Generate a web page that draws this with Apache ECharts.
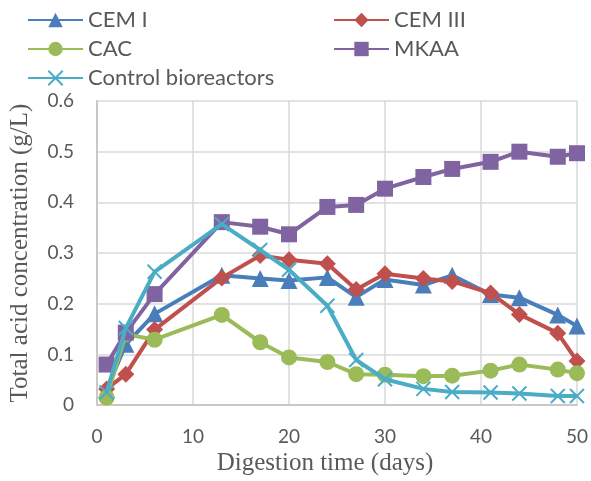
<!DOCTYPE html>
<html>
<head>
<meta charset="utf-8">
<script src="https://cdn.jsdelivr.net/npm/echarts@6/dist/echarts.min.js"></script>
<style>html,body{margin:0;padding:0;background:#fff;}#c{width:591px;height:481px;}</style>
</head>
<body>
<div id="c"></div>
<script>
const days = [1, 3, 6, 13, 17, 20, 24, 27, 30, 34, 37, 41, 44, 48, 50];
const cem1 = [0.03, 0.12, 0.18, 0.256, 0.25, 0.246, 0.252, 0.213, 0.248, 0.237, 0.256, 0.218, 0.212, 0.178, 0.156];
const cem3 = [0.032, 0.061, 0.149, 0.251, 0.295, 0.287, 0.279, 0.228, 0.259, 0.25, 0.244, 0.221, 0.179, 0.142, 0.087];
const cac = [0.015, 0.14, 0.129, 0.178, 0.124, 0.094, 0.085, 0.061, 0.06, 0.057, 0.058, 0.068, 0.08, 0.07, 0.063];
const mkaa = [0.08, 0.143, 0.219, 0.361, 0.352, 0.337, 0.391, 0.395, 0.427, 0.45, 0.466, 0.48, 0.5, 0.49, 0.497];
const control = [0.025, 0.152, 0.263, 0.357, 0.306, 0.267, 0.196, 0.089, 0.051, 0.032, 0.026, 0.025, 0.023, 0.018, 0.018];
const names = ['CEM I', 'CEM III', 'CAC', 'MKAA', 'Control bioreactors'];
const colors = ['#4A7EBB', '#C0504D', '#9BBB59', '#8064A2', '#4BACC6'];
const symbols = ['triangle', 'diamond', 'circle', 'rect', 'path://M0,0L10,10M10,0L0,10'];
const sizes = [17, 17, 16, 16, 14];
const values = [cem1, cem3, cac, mkaa, control];

const pairs = v => days.map((d, i) => [d, v[i]]);
const series = names.map((n, k) => ({
  name: n,
  type: 'line',
  data: pairs(values[k]),
  symbol: symbols[k],
  symbolSize: sizes[k],
  showAllSymbol: true,
  lineStyle: { color: colors[k], width: 4 },
  itemStyle: k === 4
    ? { color: colors[k], borderColor: colors[k], borderWidth: 2 }
    : { color: colors[k] },
  z: 2 + k
}));

const legPos = [[27, 9], [333, 9], [27, 38], [333, 38], [27, 67]];
const legends = names.map((n, k) => ({
  data: [n],
  left: legPos[k][0],
  top: legPos[k][1],
  padding: 0,
  itemWidth: 55,
  itemHeight: 18,
  itemGap: 5,
  textStyle: { fontFamily: 'Lato', fontSize: 22, color: '#595959' },
  selectedMode: false
}));

const chart = echarts.init(document.getElementById('c'), null, { renderer: 'canvas' });
chart.setOption({
  animation: false,
  backgroundColor: '#fff',
  legend: legends,
  grid: { left: 94, right: 12, top: 101, bottom: 64, containLabel: false },
  xAxis: {
    type: 'value', min: 0, max: 50, interval: 10,
    name: 'Digestion time (days)', nameLocation: 'middle', nameGap: 27,
    nameTextStyle: { fontFamily: 'Liberation Serif', fontSize: 25, color: '#595959', padding: [0, 24, 0, 0] },
    axisLine: { lineStyle: { color: '#C8C8C8', width: 2 } },
    axisTick: { show: false },
    axisLabel: { fontFamily: 'Lato', fontSize: 19, color: '#595959', margin: 22 },
    splitLine: { lineStyle: { color: '#D9D9D9', width: 1.5 } }
  },
  yAxis: {
    type: 'value', min: 0, max: 0.6, interval: 0.1,
    name: 'Total acid concentration (g/L)', nameLocation: 'middle', nameGap: 64,
    nameTextStyle: { fontFamily: 'Liberation Serif', fontSize: 25, color: '#595959' },
    axisLine: { show: true, lineStyle: { color: '#C8C8C8', width: 2 } },
    axisTick: { show: false },
    axisLabel: { fontFamily: 'Lato', fontSize: 19, color: '#595959', margin: 23 },
    splitLine: { lineStyle: { color: '#D9D9D9', width: 1.5 } }
  },
  series: series
});
</script>
</body>
</html>
